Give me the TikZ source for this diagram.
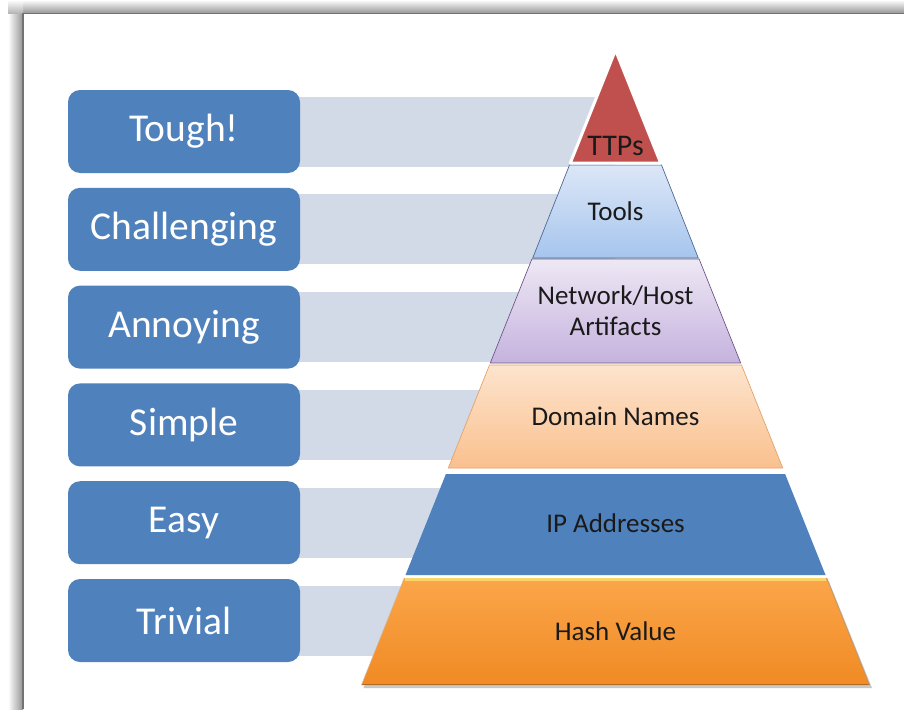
\documentclass[tikz,border=0pt]{standalone}
\usepackage{fontspec}
\setmainfont{Carlito}
\definecolor{boxblue}{HTML}{4F81BD}
\definecolor{barcol}{HTML}{D2D9E7}
\definecolor{labtext}{HTML}{1A1A1A}
\definecolor{ttpred}{HTML}{C0504D}
\definecolor{toolstop}{HTML}{DCE7F7}
\definecolor{toolsbot}{HTML}{A6C5EE}
\definecolor{toolsline}{HTML}{4D6A93}
\definecolor{nettop}{HTML}{EEE8F4}
\definecolor{netbot}{HTML}{C5B2DE}
\definecolor{netline}{HTML}{6E5A8A}
\definecolor{domtop}{HTML}{FDE4CD}
\definecolor{dombot}{HTML}{FAC08E}
\definecolor{domline}{HTML}{E2A46E}
\definecolor{hashtop}{HTML}{FBA64A}
\definecolor{hashbot}{HTML}{F08A24}
\definecolor{hashhi}{HTML}{FCD46C}
\definecolor{hashdark}{HTML}{B0691F}
\begin{document}
\begin{tikzpicture}[x=1pt,y=-1pt,
  lvlbox/.style={fill=boxblue, rounded corners=12pt, minimum width=232pt,
    minimum height=83pt, text=white, inner sep=0pt,
    font=\fontsize{39.5}{42}\selectfont},
  barrect/.style={fill=barcol},
  plab/.style={text=labtext, align=center, inner sep=0pt,
    font=\fontsize{27}{31}\selectfont}]
\useasboundingbox (0,0) rectangle (904,709);
\fill[white] (0,0) rectangle (904,709);
% frame shadow
\shade[top color=white, bottom color=black!42] (8,0) rectangle (904,13.5);
\shade[left color=white, right color=black!42] (8,13.5) rectangle (23,709);
\shade[top color=white, bottom color=black!30] (8,0) rectangle (23,13.5);
\draw[black!55, line width=1.2pt] (23,709) -- (23,13.5) -- (904,13.5);
\fill[white] (23.6,14.1) rectangle (904,709);

% grey bars behind the pyramid
\foreach \c in {131.5,229.3,327.1,424.9,522.7,620.5}{
  \fill[barcol] (298,\c-35) rectangle (615,\c+35);
}

% level boxes
\node[lvlbox] (tough)  at (184,131.5) {Tough!};
\node[lvlbox] (chall)  at (184,229.3) {Challenging};
\node[lvlbox] (annoy)  at (184,327.1) {Annoying};
\node[lvlbox] (simple) at (184,424.9) {Simple};
\node[lvlbox] (easy)   at (184,522.7) {Easy};
\node[lvlbox] (trivial) at (184,620.5) {Trivial};

% pyramid
% Hash value
\fill[black!22] (363.5,688) -- (406.3,581) -- (828.7,581) -- (872,688) -- cycle;
\shade[top color=hashtop, bottom color=hashbot] (361.5,685) -- (404.3,578) -- (826.7,578) -- (869.5,685) -- cycle;
\draw[hashhi, line width=2.5pt] (405,579.5) -- (826,579.5);
\draw[hashdark, line width=1.5pt] (361.5,684.5) -- (869.5,684.5);
\draw[hashdark!70, line width=0.8pt] (869.5,685) -- (826.7,578);
\draw[hashdark!50, line width=0.6pt] (361.5,685) -- (404.3,578);
% IP addresses
\fill[boxblue] (405.5,575) -- (445.9,474) -- (785.1,474) -- (825.5,575) -- cycle;
% Domain names
\shade[top color=domtop, bottom color=dombot, draw=domline, line width=0.7pt]
  (448.3,468) -- (489.5,365) -- (741.5,365) -- (782.7,468) -- cycle;
% Network / host
\shade[top color=nettop, bottom color=netbot, draw=netline, line width=0.7pt]
  (490.3,363) -- (531.9,259) -- (699.1,259) -- (740.7,363) -- cycle;
% Tools
\shade[top color=toolstop, bottom color=toolsbot, draw=toolsline, line width=0.7pt]
  (532.7,258) -- (569.5,165) -- (661.5,165) -- (698.3,258) -- cycle;
% TTPs
\fill[ttpred, draw=white, line width=3pt, line join=round]
  (570.3,163) -- (615.5,50) -- (660.7,163) -- cycle;

% labels
\node[plab, font=\fontsize{30}{33}\selectfont] (ttps) at (615.5,146) {TTPs};
\node[plab] (tools) at (615.5,211) {Tools};
\node[plab] (net) at (615.5,311) {Network/Host\\Artifacts};
\node[plab] (dom) at (615.5,416) {Domain Names};
\node[plab] (ip) at (615.5,523) {IP Addresses};
\node[plab] (hash) at (615.5,631) {Hash Value};
\end{tikzpicture}
\end{document}
